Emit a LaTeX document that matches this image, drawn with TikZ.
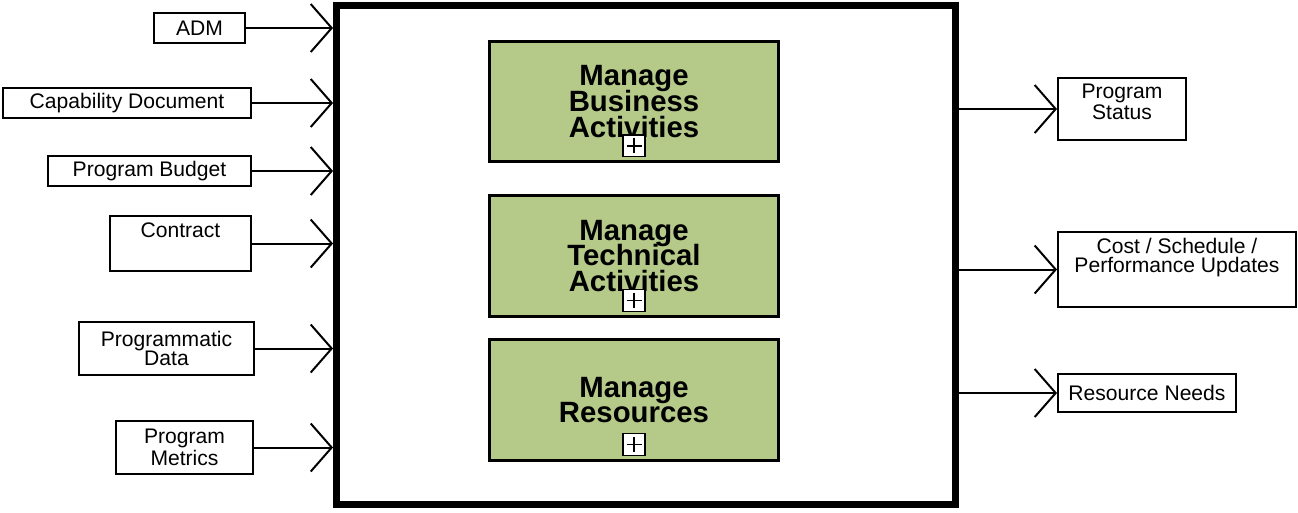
\documentclass[tikz,border=0pt]{standalone}
\usepackage{fontspec}
\setmainfont{Liberation Sans}
\usepackage{tikz}
\usetikzlibrary{arrows.meta,positioning}
\definecolor{actgreen}{RGB}{181, 202, 136}
\newcommand\acttitlefont{\fontsize{16.7pt}{14.7pt}\selectfont\bfseries\lineskiplimit=-1cm\relax}
\tikzset{
    sysbox/.style={rectangle, draw, line width=0.14cm, minimum width=12.38cm,
                   minimum height=9.98cm},
    actbox/.style={rectangle, draw, line width=0.06cm, fill=actgreen, minimum width=5.8cm,
                   minimum height=2.42cm, align=center, font=\acttitlefont,
                   execute at begin node={\rule{0pt}{0.54cm}}},
    plusbox/.style={rectangle, draw, line width=0.03cm, fill=white, minimum size=0.44cm,
                    inner sep=0pt,
                    path picture={\draw[line width=0.03cm]
                        ([xshift=-0.15cm]path picture bounding box.center) -- ([xshift=0.15cm]path picture bounding box.center)
                        ([yshift=-0.15cm]path picture bounding box.center) -- ([yshift=0.15cm]path picture bounding box.center);}},
    iobox/.style={rectangle, draw, line width=0.04cm, align=center, inner sep=0.1cm,
                  font=\fontsize{12pt}{10.8pt}\selectfont},
    flow/.style={draw, line width=0.04cm, -{Straight Barb[length=0.42cm, width=0.96cm]}},
}
\begin{document}
\begin{tikzpicture}[x=0.02cm, y=-0.02cm]
        \useasboundingbox (0,0) rectangle (1298,512);

        % System boundary
        \node [sysbox] (sys) at (646,255) {};

        % Activities
        \node [actbox] (mba) at (634,101.5) {Manage\\Business\\Activities};
        \node [actbox] (mta) at (634,256)   {Manage\\Technical\\Activities};
        \node [actbox] (mres) at (634,400)  {Manage\\Resources};
        \node [plusbox, above=0.12cm of mba.south]  (mbaplus)  {};
        \node [plusbox, above=0.12cm of mta.south]  (mtaplus)  {};
        \node [plusbox, above=0.12cm of mres.south] (mresplus) {};

        % Inputs
        \node [iobox, minimum width=1.82cm, minimum height=0.6cm]  (adm)  at (199.5,28)  {ADM};
        \node [iobox, minimum width=4.96cm, minimum height=0.6cm]  (cap)  at (127,103)   {Capability Document};
        \node [iobox, minimum width=4.06cm, minimum height=0.6cm]  (bud)  at (149.5,171) {Program Budget};
        \node [iobox, minimum width=2.82cm, minimum height=1.1cm, text depth=0.55cm] (con) at (180.5,243.5) {Contract};
        \node [iobox, minimum width=3.5cm, minimum height=1.06cm]  (pdat) at (166.5,348.5) {Programmatic\\Data};
        \node [iobox, minimum width=2.74cm, minimum height=1.06cm] (pmet) at (184.5,447.5) {Program\\Metrics};

        % Outputs
        \node [iobox, minimum width=2.56cm, minimum height=1.24cm, text depth=0.3cm]  (pst) at (1122,109) {Program\\Status};
        \node [iobox, minimum width=4.76cm, minimum height=1.5cm, text depth=0.55cm]  (csp) at (1177,269.5) {Cost / Schedule /\\Performance Updates};
        \node [iobox, minimum width=3.56cm, minimum height=0.76cm] (rn)   at (1147,393)  {Resource Needs};

        % Arrows in
        \draw [flow] (adm.east)  -- (adm.east -| sys.west);
        \draw [flow] (cap.east)  -- (cap.east -| sys.west);
        \draw [flow] (bud.east)  -- (bud.east -| sys.west);
        \draw [flow] (con.east)  -- (con.east -| sys.west);
        \draw [flow] (pdat.east) -- (pdat.east -| sys.west);
        \draw [flow] (pmet.east) -- (pmet.east -| sys.west);

        % Arrows out
        \draw [flow] (sys.east |- pst.west) -- (pst.west);
        \draw [flow] (sys.east |- csp.west) -- (csp.west);
        \draw [flow] (sys.east |- rn.west)  -- (rn.west);
    \end{tikzpicture}
\end{document}
